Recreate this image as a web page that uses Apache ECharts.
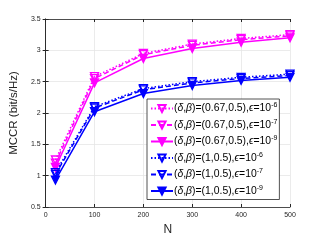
<!DOCTYPE html>
<html><head><meta charset="utf-8">
<script src="https://cdn.jsdelivr.net/npm/echarts@6/dist/echarts.min.js"></script>
<style>html,body{margin:0;padding:0;background:#fff}#c{width:321px;height:241px}</style>
</head><body><div id="c"></div>
<script>
const N = [20, 100, 200, 300, 400, 500];
const m6 = [1.25, 2.58, 2.95, 3.10, 3.19, 3.25];
const m7 = [1.20, 2.55, 2.93, 3.08, 3.17, 3.23];
const m9 = [1.13, 2.48, 2.87, 3.03, 3.13, 3.20];
const b6 = [1.05, 2.10, 2.39, 2.50, 2.57, 2.62];
const b7 = [1.02, 2.08, 2.37, 2.48, 2.55, 2.60];
const b9 = [0.93, 2.02, 2.31, 2.44, 2.52, 2.57];
const names = [
  '(δ,β)=(0.67,0.5),ϵ=10-6',
  '(δ,β)=(0.67,0.5),ϵ=10-7',
  '(δ,β)=(0.67,0.5),ϵ=10-9',
  '(δ,β)=(1,0.5),ϵ=10-6',
  '(δ,β)=(1,0.5),ϵ=10-7',
  '(δ,β)=(1,0.5),ϵ=10-9'
];
const yTicks = [0.5, 1, 1.5, 2, 2.5, 3, 3.5];
const xTicks = [0, 100, 200, 300, 400, 500];

const FONT = 'Liberation Sans, Arial, sans-serif';
const MAG = '#ff00ff', BLU = '#0000ff';
const dotted = [1.5, 2], dashed = [5, 3];
function mk(name, ys, color, dash, filled) {
  return {
    name, type: 'line', data: N.map((x, i) => [x, ys[i]]),
    symbol: 'triangle', symbolRotate: 180, symbolSize: 8,
    lineStyle: { color, width: 1.5, type: dash },
    itemStyle: { color: filled ? color : 'rgba(255,255,255,0)', borderColor: color, borderWidth: 1.3 },
    emphasis: { disabled: true }, z: 3
  };
}
function fmt(name) {
  const m = name.match(/^\(δ,β\)=(\(.*\)),ϵ=10(-\d)$/);
  return '{t|(}{i|δ}{t|,}{i|β}{t|)=' + m[1] + ',}{i|ϵ}{t|=10}{s|' + m[2] + '}';
}
const axisLine = { show: true, lineStyle: { color: '#262626', width: 0.8 } };
const chart = echarts.init(document.getElementById('c'), null, { renderer: 'canvas' });
chart.setOption({
  animation: false,
  textStyle: { fontFamily: FONT },
  grid: { left: 42, right: 31, top: 19, bottom: 29, show: false },
  xAxis: [{
    type: 'value', min: 0, max: 500, interval: 100,
    name: 'N', nameLocation: 'middle', nameGap: 17,
    nameTextStyle: { fontSize: 12, color: '#262626', fontFamily: FONT },
    axisLine, axisTick: { inside: true, length: 3, lineStyle: { color: '#262626' } },
    axisLabel: { fontSize: 7, color: '#262626', margin: 5, fontFamily: FONT },
    splitLine: { show: true, lineStyle: { color: '#e6e6e6', width: 0.8 } }
  }, {
    type: 'value', min: 0, max: 500, interval: 100, position: 'top',
    axisLine, axisTick: { inside: true, length: 3, lineStyle: { color: '#262626' } },
    axisLabel: { show: false }, splitLine: { show: false }
  }],
  yAxis: [{
    type: 'value', min: 0.5, max: 3.5, interval: 0.5,
    name: 'MCCR (bit/s/Hz)', nameLocation: 'middle', nameGap: 21,
    nameTextStyle: { fontSize: 11.5, color: '#262626', fontFamily: FONT },
    axisLine, axisTick: { inside: true, length: 3, lineStyle: { color: '#262626' } },
    axisLabel: { fontSize: 7, color: '#262626', margin: 5, fontFamily: FONT },
    splitLine: { show: true, lineStyle: { color: '#e6e6e6', width: 0.8 } }
  }, {
    type: 'value', min: 0.5, max: 3.5, interval: 0.5, position: 'right',
    axisLine, axisTick: { inside: true, length: 3, lineStyle: { color: '#262626' } },
    axisLabel: { show: false }, splitLine: { show: false }
  }],
  legend: {
    orient: 'vertical', left: 147, top: 99,
    backgroundColor: '#fff', borderColor: '#262626', borderWidth: 0.8,
    padding: [3, 2, 2, 3], itemGap: 3.5, itemWidth: 22, itemHeight: 9,
    formatter: fmt,
    textStyle: {
      fontSize: 10.4, color: '#000', fontFamily: FONT, padding: [0, 0, 0, -4],
      rich: {
        t: { fontSize: 10.4, fontFamily: FONT, color: '#000', lineHeight: 12 },
        i: { fontSize: 10.4, fontFamily: FONT, fontStyle: 'italic', color: '#000', lineHeight: 12 },
        s: { fontSize: 7, fontFamily: FONT, color: '#000', padding: [0, 0, 6, 0], lineHeight: 8 }
      }
    },
    data: names
  },
  series: [
    mk(names[0], m6, MAG, dotted, false),
    mk(names[1], m7, MAG, dashed, false),
    mk(names[2], m9, MAG, 'solid', true),
    mk(names[3], b6, BLU, dotted, false),
    mk(names[4], b7, BLU, dashed, false),
    mk(names[5], b9, BLU, 'solid', true)
  ]
});
</script></body></html>
